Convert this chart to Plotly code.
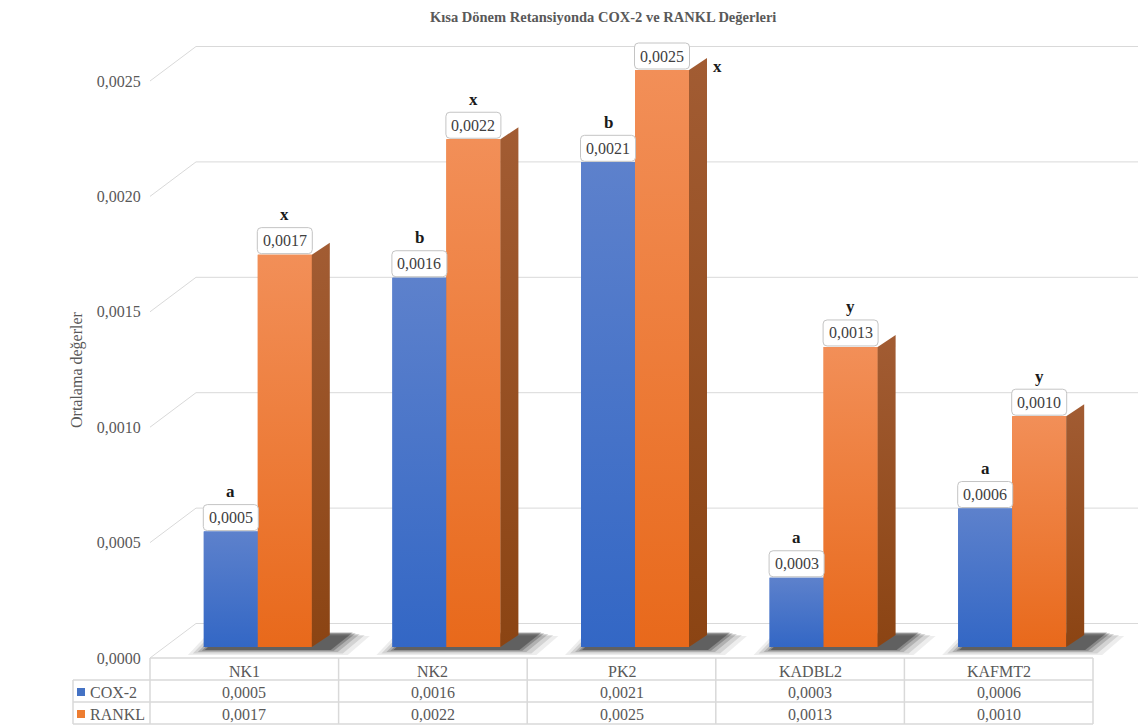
import plotly.graph_objects as go

# ---- data -------------------------------------------------------------
categories = ["NK1", "NK2", "PK2", "KADBL2", "KAFMT2"]
series_names = ["COX-2", "RANKL"]
cox2 = [0.0005, 0.0016, 0.0021, 0.0003, 0.0006]
rankl = [0.0017, 0.0022, 0.0025, 0.0013, 0.0010]
cox2_letters = ["a", "b", "b", "a", "a"]
rankl_letters = ["x", "x", "x", "y", "y"]
y_ticks = [0.0, 0.0005, 0.0010, 0.0015, 0.0020, 0.0025]
title_text = "Kısa Dönem Retansiyonda COX-2 ve RANKL Değerleri"
y_title = "Ortalama değerler"

# ---- geometry (pixels) -------------------------------------------------
W, H = 1138, 725
PLOT_L = 150            # left edge of the front plane
COL_PX = 188.6          # width of one category column
VAL_PX = 230800         # pixels per value unit
FLOOR_Y = 658           # screen y of value 0 at the front edge of the floor
BAR_W = 54              # front face width of one bar
BAR_SHIFT = (13.5, 11)  # front plane of the bars, relative to the floor front
BAR_DEPTH = (18, 12)    # depth of each bar
WALL = (46, 34.5)       # back wall, relative to the floor front
LABEL_W, LABEL_H, LABEL_R = 55, 26, 4

FONT = "Liberation Serif"
TXT = "#595959"
GRID = "#d9d9d9"

FRONT = {
    "COX-2": ("#3367c5", "#5d81cc"),
    "RANKL": ("#e8691b", "#f28f58"),
}
SIDE = {
    "COX-2": ("#2a4f94", "#3d5f9f"),
    "RANKL": ("#8b4413", "#a25c33"),
}
SWATCH = {"COX-2": "#4472c4", "RANKL": "#ed7d31"}


def dx(px):
    return px / COL_PX


def dv(px):
    return px / VAL_PX


def paper_x(px):
    return (px - PLOT_L) / (W - PLOT_L)


def paper_y(py):
    return 1 - py / H


def fmt(v):
    return f"{v:.4f}".replace(".", ",")


def rounded_box(cx, y_bottom, w_px, h_px, r_px):
    """Rounded rectangle path in data units, centred on cx, resting on y_bottom."""
    l, r = cx - dx(w_px / 2), cx + dx(w_px / 2)
    b, t = y_bottom, y_bottom + dv(h_px)
    rx, ry = dx(r_px), dv(r_px)
    return (f"M {l + rx} {b} L {r - rx} {b} Q {r} {b} {r} {b + ry} "
            f"L {r} {t - ry} Q {r} {t} {r - rx} {t} "
            f"L {l + rx} {t} Q {l} {t} {l} {t - ry} "
            f"L {l} {b + ry} Q {l} {b} {l + rx} {b} Z")


x_min = -0.5
x_max = -0.5 + dx(W - PLOT_L)
base = dv(BAR_SHIFT[1])

fig = go.Figure()
shapes = []
annotations = []

# ---- walls: side-wall diagonals and back-wall gridlines ----------------
for v in y_ticks:
    shapes.append(dict(type="line", xref="x", yref="y", layer="below",
                       x0=x_min, y0=v, x1=x_min + dx(WALL[0]), y1=v + dv(WALL[1]),
                       line=dict(color=GRID, width=1)))
    shapes.append(dict(type="line", xref="x", yref="y", layer="below",
                       x0=x_min + dx(WALL[0]), y0=v + dv(WALL[1]), x1=x_max, y1=v + dv(WALL[1]),
                       line=dict(color=GRID, width=1)))

series = [("COX-2", cox2, cox2_letters), ("RANKL", rankl, rankl_letters)]
n_series = len(series)

# ---- soft floor shadows under each bar pair ---------------------------
for i in range(len(categories)):
    L = i + dx(BAR_SHIFT[0] - BAR_W * n_series / 2)
    R = i + dx(BAR_SHIFT[0] + BAR_W * n_series / 2)
    for grow, alpha in [(20, 0.07), (15, 0.11), (10, 0.16), (6, 0.22), (3, 0.3)]:
        fl = (L + dx(4 - grow), base - dv(2 + grow * 0.3))
        fr = (R + dx(16 + grow), base - dv(2 + grow * 0.3))
        br = (R + dx(BAR_DEPTH[0] + 20 + grow), base + dv(BAR_DEPTH[1] + 3 - grow * 0.2))
        bl = (L + dx(BAR_DEPTH[0] + 4 - grow), base + dv(BAR_DEPTH[1] + 3 - grow * 0.2))
        path = "M {} {} L {} {} L {} {} L {} {} Z".format(*fl, *fr, *br, *bl)
        shapes.append(dict(type="path", xref="x", yref="y", layer="below", path=path,
                           fillcolor=f"rgba(0,0,0,{alpha})", line=dict(width=0)))

# ---- bars -------------------------------------------------------------
bar_w = dx(BAR_W)
for s, (name, vals, letters) in enumerate(series):
    centers = [i + dx(BAR_SHIFT[0] + BAR_W * (s - (n_series - 1) / 2)) for i in range(len(categories))]
    fig.add_trace(go.Bar(
        x=centers, y=vals, base=base, width=bar_w, name=name,
        marker=dict(color=FRONT[name][0], line=dict(width=0)),
        showlegend=False, hoverinfo="skip",
    ))
    for c, v, letter in zip(centers, vals, letters):
        top = base + v
        x0, x1 = c - bar_w / 2, c + bar_w / 2
        # front face shading
        fig.add_trace(go.Scatter(
            x=[x0, x1, x1, x0, x0], y=[base, base, top, top, base],
            mode="lines", line=dict(width=0), fill="toself",
            fillgradient=dict(type="vertical", start=base, stop=top,
                              colorscale=[[0, FRONT[name][0]], [1, FRONT[name][1]]]),
            hoverinfo="skip", showlegend=False,
        ))
        # right side face
        sx0, sx1 = x1, x1 + dx(BAR_DEPTH[0])
        sdv = dv(BAR_DEPTH[1])
        side_x = [sx0, sx1, sx1, sx0, sx0]
        side_y = [base, base + sdv, top + sdv, top, base]
        if s == n_series - 1:
            fig.add_trace(go.Scatter(
                x=side_x, y=side_y, mode="lines", line=dict(width=0), fill="toself",
                fillgradient=dict(type="vertical", start=base, stop=top + sdv,
                                  colorscale=[[0, SIDE[name][0]], [1, SIDE[name][1]]]),
                hoverinfo="skip", showlegend=False,
            ))
        else:
            # the side of the left bar sits behind its neighbour
            path = "M {} {} L {} {} L {} {} L {} {} Z".format(
                side_x[0], side_y[0], side_x[1], side_y[1], side_x[2], side_y[2], side_x[3], side_y[3])
            shapes.append(dict(type="path", xref="x", yref="y", layer="below", path=path,
                               fillcolor=SIDE[name][0], line=dict(width=0)))

        # value label: rounded box + text
        label_bottom = top + dv(1)
        shapes.append(dict(type="path", xref="x", yref="y", layer="above",
                           path=rounded_box(c, label_bottom, LABEL_W, LABEL_H, LABEL_R),
                           fillcolor="white", line=dict(color="#c4c4c4", width=1)))
        annotations.append(dict(
            x=c, y=label_bottom + dv(LABEL_H / 2), xref="x", yref="y", text=fmt(v), showarrow=False,
            xanchor="center", yanchor="middle",
            font=dict(family=FONT, size=16, color="#404040"),
        ))
        # significance letter
        letter_px = FLOOR_Y - BAR_SHIFT[1] - v * VAL_PX - 40
        if letter_px < 40:
            annotations.append(dict(
                x=sx1, y=top, xref="x", yref="y", text=f"<b>{letter}</b>", showarrow=False,
                xanchor="left", yanchor="middle", xshift=4, yshift=4,
                font=dict(family=FONT, size=17, color="#1a1a1a"),
            ))
        else:
            annotations.append(dict(
                x=c, y=top, xref="x", yref="y", text=f"<b>{letter}</b>", showarrow=False,
                xanchor="center", yanchor="middle", yshift=40,
                font=dict(family=FONT, size=17, color="#1a1a1a"),
            ))

# ---- data table under the chart ---------------------------------------
TABLE_L = 73
ROW_Y = [658, 680, 702, 724]
col_edges = [PLOT_L + k * COL_PX for k in range(len(categories) + 1)]
table_r = col_edges[-1]

shapes.append(dict(type="line", xref="paper", yref="paper",
                   x0=paper_x(PLOT_L), x1=paper_x(table_r), y0=paper_y(ROW_Y[0]), y1=paper_y(ROW_Y[0]),
                   line=dict(color=GRID, width=1.5)))
for ry in ROW_Y[1:]:
    shapes.append(dict(type="line", xref="paper", yref="paper",
                       x0=paper_x(TABLE_L), x1=paper_x(table_r), y0=paper_y(ry), y1=paper_y(ry),
                       line=dict(color=GRID, width=1.5)))
for cx in col_edges:
    shapes.append(dict(type="line", xref="paper", yref="paper",
                       x0=paper_x(cx), x1=paper_x(cx), y0=paper_y(ROW_Y[0]), y1=paper_y(ROW_Y[-1]),
                       line=dict(color=GRID, width=1.5)))
shapes.append(dict(type="line", xref="paper", yref="paper",
                   x0=paper_x(TABLE_L), x1=paper_x(TABLE_L), y0=paper_y(ROW_Y[1]), y1=paper_y(ROW_Y[-1]),
                   line=dict(color=GRID, width=1.5)))

row_centers = [(ROW_Y[k] + ROW_Y[k + 1]) / 2 + 1 for k in range(3)]
for i, cat in enumerate(categories):
    cx = (col_edges[i] + col_edges[i + 1]) / 2
    annotations.append(dict(x=paper_x(cx), y=paper_y(row_centers[0] + 1.5), xref="paper", yref="paper",
                            text=cat, showarrow=False, xanchor="center", yanchor="middle",
                            font=dict(family=FONT, size=16, color=TXT)))
    for k, (name, vals, _) in enumerate(series):
        annotations.append(dict(x=paper_x(cx), y=paper_y(row_centers[k + 1]), xref="paper", yref="paper",
                                text=fmt(vals[i]), showarrow=False, xanchor="center", yanchor="middle",
                                font=dict(family=FONT, size=16, color=TXT)))

for k, name in enumerate(series_names):
    cy = row_centers[k + 1]
    shapes.append(dict(type="rect", xref="paper", yref="paper",
                       x0=paper_x(77), x1=paper_x(85), y0=paper_y(cy - 4), y1=paper_y(cy + 4),
                       fillcolor=SWATCH[name], line=dict(width=0)))
    annotations.append(dict(x=paper_x(88), y=paper_y(cy), xref="paper", yref="paper",
                            text=name, showarrow=False, xanchor="left", yanchor="middle",
                            font=dict(family=FONT, size=16, color=TXT)))

# ---- titles -----------------------------------------------------------
annotations.append(dict(x=paper_x(603), y=paper_y(17), xref="paper", yref="paper",
                        text=f"<b>{title_text}</b>", showarrow=False,
                        xanchor="center", yanchor="middle",
                        font=dict(family=FONT, size=14.5, color=TXT)))
annotations.append(dict(x=paper_x(77), y=paper_y(370), xref="paper", yref="paper",
                        text=y_title, showarrow=False, textangle=-90,
                        xanchor="center", yanchor="middle",
                        font=dict(family=FONT, size=16, color=TXT)))

fig.update_layout(
    width=W, height=H,
    margin=dict(l=PLOT_L, r=0, t=0, b=0),
    paper_bgcolor="white", plot_bgcolor="white",
    barmode="overlay",
    showlegend=False,
    shapes=shapes,
    annotations=annotations,
    xaxis=dict(range=[x_min, x_max], visible=False, fixedrange=True),
    yaxis=dict(range=[-dv(H - FLOOR_Y), dv(FLOOR_Y)],
               tickvals=y_ticks, ticktext=[fmt(v) for v in y_ticks],
               showgrid=False, zeroline=False, showline=False,
               ticks="outside", ticklen=5, tickcolor="rgba(0,0,0,0)",
               tickfont=dict(family=FONT, size=16, color=TXT), fixedrange=True),
)

fig.write_html("out.html")
